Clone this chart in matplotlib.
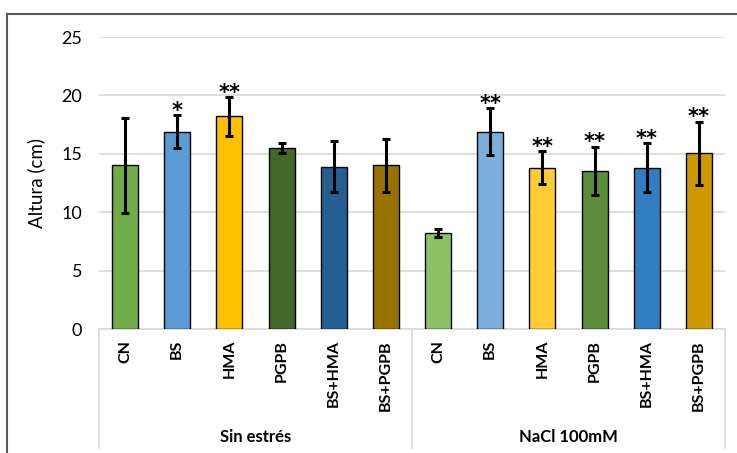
import numpy as np
import matplotlib.pyplot as plt
from matplotlib.lines import Line2D

plt.rcParams['font.family'] = ['Lato', 'DejaVu Sans']

groups = ['Sin estrés', 'NaCl 100mM']
treatments = ['CN', 'BS', 'HMA', 'PGPB', 'BS+HMA', 'BS+PGPB']

height_control = [14.0, 16.9, 18.2, 15.5, 13.9, 14.0]
err_control = [4.1, 1.4, 1.65, 0.45, 2.2, 2.25]
sig_control = ['', '*', '**', '', '', '']

height_salt = [8.25, 16.9, 13.8, 13.55, 13.8, 15.05]
err_salt = [0.35, 2.0, 1.4, 2.05, 2.1, 2.7]
sig_salt = ['', '**', '**', '**', '**', '**']

colors_control = ['#70AD47', '#5B9BD5', '#FFC000', '#43682B', '#255E91', '#997300']
colors_salt = ['#8CC168', '#7CAFDD', '#FFCD33', '#5B8D3A', '#327DC2', '#CC9A00']

heights = height_control + height_salt
errors = err_control + err_salt
stars = sig_control + sig_salt
colors = colors_control + colors_salt
labels = treatments + treatments
x = np.arange(len(heights))

fig = plt.figure(figsize=(7.37, 4.53), dpi=100)
W, H = 737, 453
ax = fig.add_axes([99 / W, (H - 329) / H, 626 / W, 292 / H])

ax.bar(x, heights, width=0.5, color=colors, edgecolor='black', linewidth=1, zorder=3)
ax.errorbar(x, heights, yerr=errors, fmt='none', ecolor='black', elinewidth=2.2,
            capsize=3, capthick=2.2, zorder=4)

for xi, h, e, s in zip(x, heights, errors, stars):
    if s:
        ax.annotate(s, (xi, h + e), xytext=(0, -4), textcoords='offset points',
                    ha='center', va='bottom', fontsize=15, fontweight='bold',
                    family=['DejaVu Sans'])

ax.set_xlim(-0.5, len(heights) - 0.5)
ax.set_ylim(0, 25)
ax.set_yticks([0, 5, 10, 15, 20, 25])
ax.yaxis.grid(True, color='#D9D9D9', linewidth=1.2, zorder=0)
ax.set_axisbelow(True)

ax.set_xticks(x)
ax.set_xticklabels(labels, rotation=90, fontweight='bold', fontsize=11.5)
ax.tick_params(axis='x', length=0, pad=8)
ax.tick_params(axis='y', length=0, pad=12, labelsize=13)
ax.set_ylabel('Altura (cm)', fontsize=13.5, labelpad=12)

for side in ['top', 'right', 'left']:
    ax.spines[side].set_visible(False)
ax.spines['bottom'].set_color('#D9D9D9')
ax.spines['bottom'].set_linewidth(1.2)

# group separators and labels under the category axis
depth = (448 - 329) / 292
for xd in [0, 0.5, 1]:
    ax.plot([xd, xd], [0, -depth], transform=ax.transAxes, color='#D9D9D9',
            linewidth=1.2, clip_on=False)
for i, g in enumerate(groups):
    ax.text(0.25 + 0.5 * i, -(437 - 329) / 292, g, transform=ax.transAxes,
            ha='center', va='center', fontsize=12, fontweight='bold')

# outer frame of the figure
fig.add_artist(Line2D([7 / W, 1], [1 - 14 / H, 1 - 14 / H], color='#595959', linewidth=1.5))
fig.add_artist(Line2D([7 / W, 7 / W], [0, 1 - 14 / H], color='#595959', linewidth=1.5))

fig.savefig('out.png', dpi=100)
